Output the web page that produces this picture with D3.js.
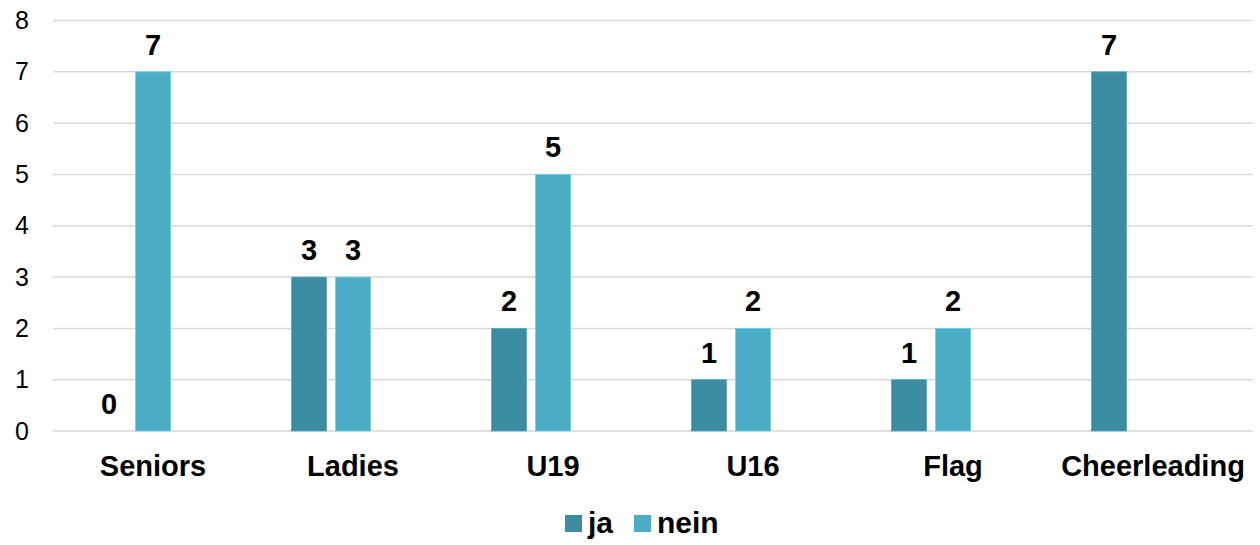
<!DOCTYPE html>
<html>
<head>
<meta charset="utf-8">
<script src="https://cdn.jsdelivr.net/npm/d3@7"></script>
<style>
  html, body { margin: 0; padding: 0; background: #fff; }
  svg { display: block; font-family: "Liberation Sans", Arial, sans-serif; }
</style>
</head>
<body>
<svg id="chart" width="1260" height="545"></svg>
<script>
const categories = ["Seniors", "Ladies", "U19", "U16", "Flag", "Cheerleading"];
const seriesNames = ["ja", "nein"];
const ja = [0, 3, 2, 1, 1, 7];
const nein = [7, 3, 5, 2, 2, null];
const yTicks = [0, 1, 2, 3, 4, 5, 6, 7, 8];
const colors = ["#3c8ca2", "#4bacc6"];

(function () {
const svg = d3.select("#chart");
const mLeft = 53, mRight = 1253, mTop = 20.5, mBottom = 431;

const x = d3.scaleBand().domain(categories).range([mLeft, mRight]).padding(0);
const y = d3.scaleLinear().domain([0, 8]).range([mBottom, mTop]);

// three slots per category (third slot is an empty series)
const half = 3 * 35 / 2 + 9;
const slot = d3.scaleBand().domain([0, 1, 2])
  .range([x.bandwidth() / 2 - half, x.bandwidth() / 2 + half])
  .paddingInner(9 / 44).paddingOuter(0);

// gridlines
svg.append("g").selectAll("line").data(yTicks).join("line")
  .attr("x1", mLeft).attr("x2", mRight)
  .attr("y1", d => y(d)).attr("y2", d => y(d))
  .attr("stroke", "#d9d9d9").attr("stroke-width", 1.5);

// y tick labels
const yAxis = d3.axisLeft(y).tickValues(yTicks).tickSize(0).tickPadding(0);
const ga = svg.append("g").attr("transform", "translate(29,0)").call(yAxis);
ga.select(".domain").remove();
ga.selectAll("text").attr("font-size", 25).attr("fill", "#000")
  .attr("font-family", "'Liberation Sans', Arial, sans-serif");

const data = [ja, nein];
data.forEach((vals, si) => {
  const g = svg.append("g");
  const pts = categories.map((c, i) => ({ c, v: vals[i] })).filter(d => d.v !== null);
  g.selectAll("rect").data(pts).join("rect")
    .attr("x", d => x(d.c) + slot(si))
    .attr("width", slot.bandwidth())
    .attr("y", d => y(d.v))
    .attr("height", d => y(0) - y(d.v))
    .attr("fill", colors[si])
    .attr("stroke", d3.color(colors[si]).brighter(0.6))
    .attr("stroke-width", 0.75);
  g.selectAll("text").data(pts).join("text")
    .attr("x", d => x(d.c) + slot(si) + slot.bandwidth() / 2)
    .attr("y", d => y(d.v) - 17)
    .attr("text-anchor", "middle")
    .attr("font-size", 29).attr("font-weight", "bold").attr("fill", "#000")
    .text(d => d.v);
});

// category labels
svg.append("g").selectAll("text").data(categories).join("text")
  .attr("x", d => x(d) + x.bandwidth() / 2)
  .attr("y", 476)
  .attr("text-anchor", "middle")
  .attr("font-size", 29).attr("font-weight", "bold").attr("fill", "#000")
  .text(d => d);

// legend
const legendX = [565, 634];
const lg = svg.append("g");
seriesNames.forEach((n, i) => {
  lg.append("rect").attr("x", legendX[i]).attr("y", 515).attr("width", 17).attr("height", 17)
    .attr("fill", colors[i]);
  lg.append("text").attr("x", legendX[i] + 23).attr("y", 533)
    .attr("font-size", 30).attr("font-weight", "bold").attr("fill", "#000")
    .text(n);
});
})();
</script>
</body>
</html>
